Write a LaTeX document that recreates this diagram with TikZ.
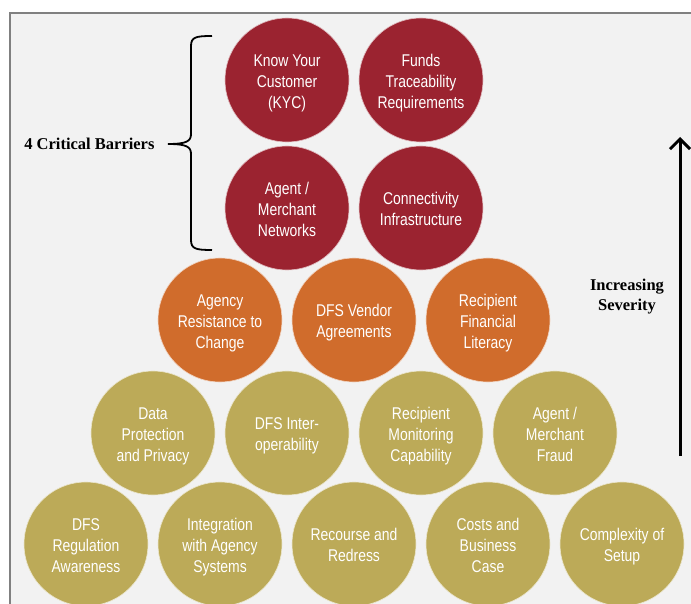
\documentclass[tikz,border=0pt]{standalone}
\usepackage{fontspec}
\usetikzlibrary{arrows.meta}
\newfontfamily\circfont[FakeStretch=0.82]{Liberation Sans}
\newfontfamily\labfont{Liberation Serif}
\definecolor{barred}{RGB}{155,35,48}
\definecolor{barorange}{RGB}{208,108,44}
\definecolor{barolive}{RGB}{188,170,88}
\definecolor{panelbg}{RGB}{242,242,242}
\definecolor{framegray}{RGB}{128,128,128}
% centred block of lines with even strut spacing, set a little low in the circle
\newcommand\circtext[1]{\raisebox{-3pt}[\height][\depth]{\begin{tabular}{@{}c@{}}#1\end{tabular}}}
\tikzset{
  barrier/.style={circle, minimum size=124pt, inner sep=0pt,
    text=white, draw=white!70!#1, line width=0.6pt, fill=#1,
    font=\circfont\fontsize{17}{21}\selectfont},
  sidelabel/.style={align=center, text=black,
    font=\labfont\bfseries\fontsize{16.5}{20}\selectfont},
}
\begin{document}
\begin{tikzpicture}[x=1pt, y=-1pt]
\useasboundingbox (0,0) rectangle (691,604);
% panel
\fill[white] (0,0) rectangle (691,604);
\fill[panelbg] (10,13) rectangle (700,620);
\draw[framegray, line width=2pt] (10,620) -- (10,13) -- (700,13);

% critical barriers
\node[barrier=barred] (kyc)   at (287,80)  {\circtext{Know Your\\Customer\\(KYC)}};
\node[barrier=barred] (funds) at (421,80)  {\circtext{Funds\\Traceability\\Requirements}};
\node[barrier=barred] (agnet) at (287,208) {\circtext{Agent /\\Merchant\\Networks}};
\node[barrier=barred] (conn)  at (421,208) {\circtext{Connectivity\\Infrastructure}};

% second tier
\node[barrier=barorange] (resist)   at (220,320) {\circtext{Agency\\Resistance to\\Change}};
\node[barrier=barorange] (vendor)   at (354,320) {\circtext{DFS Vendor\\Agreements}};
\node[barrier=barorange] (literacy) at (488,320) {\circtext{Recipient\\Financial\\Literacy}};

% third tier
\node[barrier=barolive] (data)    at (153,433) {\circtext{Data\\Protection\\and Privacy}};
\node[barrier=barolive] (interop) at (287,433) {\circtext{DFS Inter-\\operability}};
\node[barrier=barolive] (monitor) at (421,433) {\circtext{Recipient\\Monitoring\\Capability}};
\node[barrier=barolive] (fraud)   at (555,433) {\circtext{Agent /\\Merchant\\Fraud}};

% base tier
\node[barrier=barolive] (regul)    at (86,544)  {\circtext{DFS\\Regulation\\Awareness}};
\node[barrier=barolive] (integ)    at (220,544) {\circtext{Integration\\with Agency\\Systems}};
\node[barrier=barolive] (recourse) at (354,544) {\circtext{Recourse and\\Redress}};
\node[barrier=barolive] (costs)    at (488,544) {\circtext{Costs and\\Business\\Case}};
\node[barrier=barolive] (setup)    at (622,544) {\circtext{Complexity of\\Setup}};

% brace around the critical barriers
\draw[black, line width=1.8pt]
  (212,36) .. controls (196,36) and (191,37) .. (191,46) -- (191,134)
  .. controls (191,141) and (187,144) .. (168,144)
  .. controls (187,144) and (191,147) .. (191,154) -- (191,240)
  .. controls (191,249) and (196,250) .. (212,250);
\node[sidelabel, anchor=east] (critical) at (158,144) {4 Critical Barriers};

% severity arrow
\coordinate (sevlow) at (680,456);
\coordinate (sevhigh) at (680,137);
\draw[black, line width=3pt, -{Straight Barb[length=10pt, width=20pt]}] (sevlow) -- (sevhigh);
\node[sidelabel] (severity) at (627,297) {Increasing\\Severity};
\end{tikzpicture}
\end{document}
